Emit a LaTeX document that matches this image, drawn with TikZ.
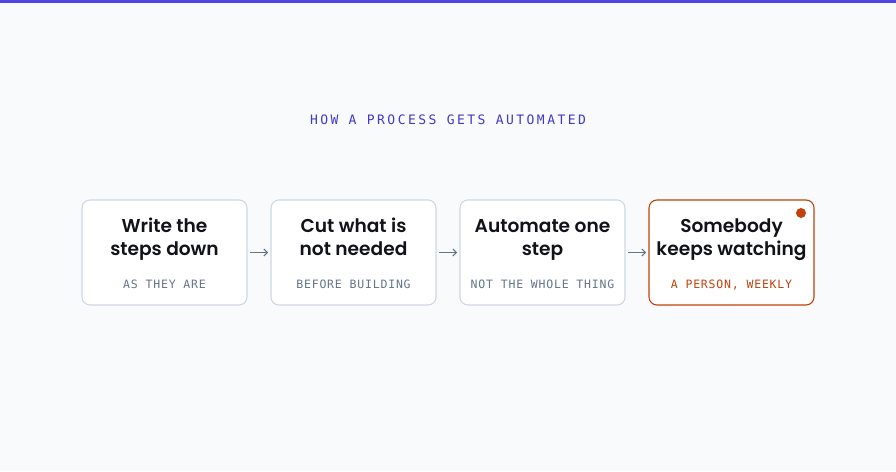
\documentclass[tikz,border=0pt]{standalone}
\usepackage{fontspec}
\setsansfont{Poppins}
\newfontfamily\headfont{Poppins SemiBold}
\newfontfamily\tagfont[LetterSpace=7]{DejaVu Sans Mono}
\newfontfamily\kickerfont[LetterSpace=19]{DejaVu Sans Mono}
\usepackage{tikz}
\usetikzlibrary{positioning,arrows.meta}
\definecolor{pagebg}{HTML}{F8FAFC}
\definecolor{indigo}{HTML}{4338CA}
\definecolor{topbar}{HTML}{4F46E5}
\definecolor{boxline}{HTML}{CFD8E3}
\definecolor{ink}{HTML}{111318}
\definecolor{slate}{HTML}{64748B}
\definecolor{alert}{HTML}{C2410C}

\begin{document}
\begin{tikzpicture}[x=1pt, y=1pt,
    stepbox/.style={draw=boxline, line width=1.1pt, fill=white, rounded corners=8pt,
      minimum width=165pt, minimum height=105pt, inner sep=0pt, outer sep=0pt},
    alertbox/.style={stepbox, draw=alert},
    steptitle/.style={font=\headfont\fontsize{18.6}{23.3}\selectfont, text=ink,
      align=center, inner sep=0pt, anchor=base},
    steptag/.style={font=\tagfont\fontsize{11.5}{13}\selectfont, text=slate, inner sep=0pt, anchor=base},
    alerttag/.style={steptag, text=alert},
    alertdot/.style={circle, fill=alert, minimum size=10pt, inner sep=0pt},
    flow/.style={draw=slate, line width=1pt, shorten <=3pt, shorten >=3pt,
      -{Straight Barb[length=3.5pt, width=7pt]}}]
    \useasboundingbox (0,0) rectangle (896,471);
    \fill[pagebg] (0,0) rectangle (896,471);
    \fill[topbar] (0,468) rectangle (896,471);
    \node[font=\kickerfont\fontsize{13}{15}\selectfont, text=indigo, inner sep=0pt] (kicker) at (448,351)
      {HOW A PROCESS GETS AUTOMATED};
    % the four steps
    \node[stepbox] (write) at (164.5,218.5) {};
    \node[stepbox, right=24pt of write] (cut) {};
    \node[stepbox, right=24pt of cut] (automate) {};
    \node[alertbox, right=24pt of automate] (watch) {};
    \node[steptitle] at ([yshift=-3.5pt]write.center) {Write the\\steps down};
    \node[steptitle] at ([yshift=-3.5pt]cut.center) {Cut what is\\not needed};
    \node[steptitle] at ([yshift=-3.5pt]automate.center) {Automate one\\step};
    \node[steptitle] at ([yshift=-3.5pt]watch.center) {Somebody\\keeps watching};
    \node[steptag] at ([yshift=-36pt]write.center) {AS THEY ARE};
    \node[steptag] at ([yshift=-36pt]cut.center) {BEFORE BUILDING};
    \node[steptag] at ([yshift=-36pt]automate.center) {NOT THE WHOLE THING};
    \node[alerttag] at ([yshift=-36pt]watch.center) {A PERSON, WEEKLY};
    \node[alertdot] (watchdot) at ([xshift=-13pt, yshift=-13pt]watch.north east) {};
    % arrows between steps
    \draw[flow] (write) -- (cut);
    \draw[flow] (cut) -- (automate);
    \draw[flow] (automate) -- (watch);
\end{tikzpicture}
\end{document}
